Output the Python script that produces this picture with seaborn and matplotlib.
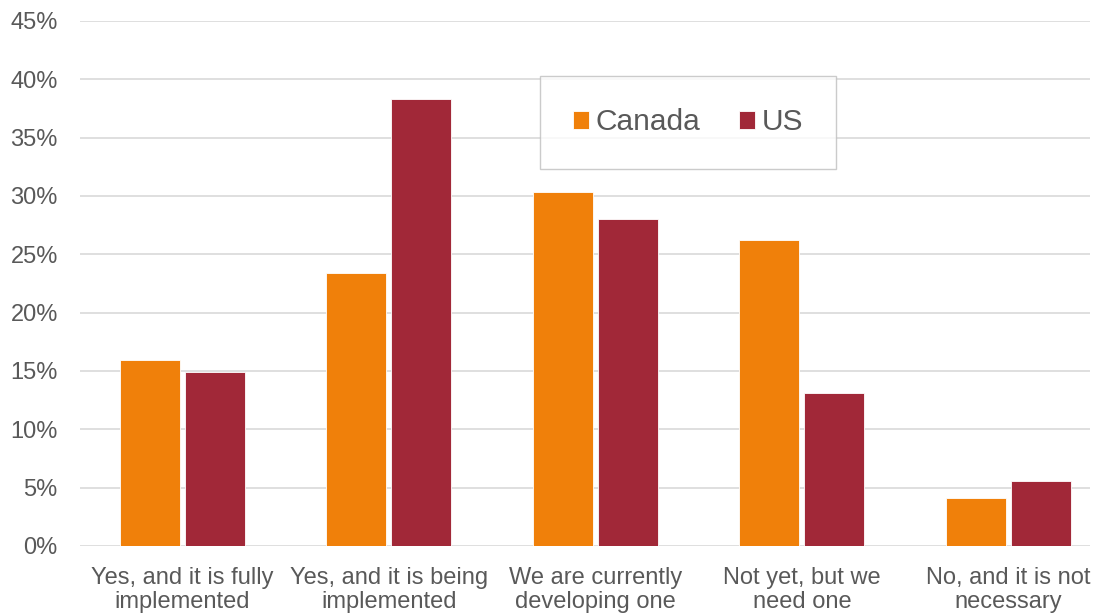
import matplotlib
matplotlib.use("Agg")
import matplotlib.pyplot as plt
import seaborn as sns
import pandas as pd
from matplotlib.ticker import FuncFormatter, MultipleLocator

categories = ["Yes, and it is fully\nimplemented", "Yes, and it is being\nimplemented",
              "We are currently\ndeveloping one", "Not yet, but we\nneed one",
              "No, and it is not\nnecessary"]
canada = [15.9, 23.4, 30.3, 26.2, 4.1]
us = [14.9, 38.3, 28.0, 13.1, 5.6]
series = ["Canada", "US"]
colors = ["#F0800A", "#A12838"]

df = pd.DataFrame({
    "category": categories * 2,
    "value": canada + us,
    "country": [series[0]] * len(categories) + [series[1]] * len(categories),
})

sns.set_theme(style="white")
plt.rcParams["font.family"] = ["Liberation Sans", "DejaVu Sans"]

fig = plt.figure(figsize=(11.03, 6.14), dpi=100)
ax = fig.add_axes([80/1103, 1-546/614, (1090-80)/1103, (546-21)/614])

sns.barplot(data=df, x="category", y="value", hue="country", palette=colors,
            width=0.63, gap=0.077, ax=ax, edgecolor="white", linewidth=0.6,
            saturation=1, legend=True)

ax.set_xlim(-0.496, 4.395)
ax.set_ylim(0, 45)
ax.yaxis.set_major_locator(MultipleLocator(5))
ax.yaxis.set_major_formatter(FuncFormatter(lambda v, p: f"{v:.0f}%"))
ax.grid(axis="y", color="#D9D9D9", linewidth=1.2)
ax.set_axisbelow(True)
for s in ax.spines.values():
    s.set_visible(False)
ax.set_xlabel("")
ax.set_ylabel("")
ax.tick_params(axis="both", labelsize=17, colors="#595959", length=0)
ax.tick_params(axis="y", pad=16)
ax.tick_params(axis="x", pad=15)
for lab in ax.get_xticklabels():
    lab.set_linespacing(1.15)

handles, labels = ax.get_legend_handles_labels()
ax.get_legend().remove()
leg = fig.legend(handles, labels, loc="center", bbox_to_anchor=(688/1103, 1-122.5/614),
                 ncol=2, fontsize=21.5, frameon=True, fancybox=False, borderpad=1.1,
                 handlelength=0.55, handleheight=0.55, handletextpad=0.2,
                 columnspacing=1.3, labelcolor="#595959")
leg.get_frame().set_edgecolor("#BFBFBF")
leg.get_frame().set_linewidth(1.0)

fig.savefig("out.png", dpi=100)
